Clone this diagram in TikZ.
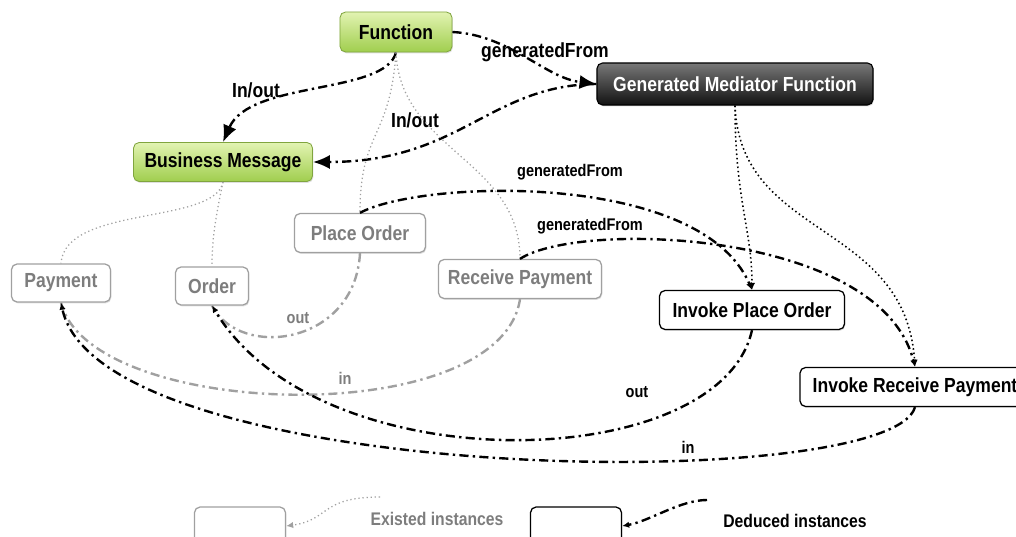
\documentclass[tikz,border=0pt]{standalone}
\usepackage{fontspec}
\setmainfont[FakeStretch=0.86]{Liberation Sans}
\usepackage{tikz}
\usetikzlibrary{arrows.meta, shadows}
\definecolor{leaftop}{RGB}{226, 243, 178}
\definecolor{leafbot}{RGB}{160, 206, 78}
\definecolor{mediatortop}{RGB}{120, 120, 120}
\definecolor{mediatorbot}{RGB}{18, 18, 18}
\definecolor{existgray}{RGB}{125, 125, 125}
\definecolor{existline}{RGB}{160, 160, 160}

\tikzset{
  box/.style={rounded corners=4pt, align=center, font=\fontsize{14.5}{16}\selectfont\bfseries,
    inner sep=2pt, drop shadow={opacity=0.25, shadow xshift=0.6pt, shadow yshift=-1pt}},
  concept/.style={box, draw=leafbot!80!black, line width=0.6pt, top color=leaftop, bottom color=leafbot},
  mediator/.style={box, draw=black, line width=0.8pt, top color=mediatortop, bottom color=mediatorbot, text=white},
  existed/.style={box, draw=existline, line width=0.9pt, fill=white, text=existgray},
  deduced/.style={box, draw=black, line width=0.9pt, fill=white, text=black},
  dashdot/.style={line width=1.7pt, dash pattern=on 6.5pt off 3pt on 1.7pt off 3pt},
  deduce/.style={dashdot, black, -{Latex[length=5pt, width=4.5pt]}},
  existdeduce/.style={dashdot, existline},
  member/.style={dotted, line width=0.9pt, existline},
  instof/.style={dotted, line width=1.1pt, black, -{Latex[length=5pt, width=4.5pt]}},
  biglabel/.style={font=\fontsize{14.5}{16}\selectfont\bfseries},
  smalllabel/.style={font=\fontsize{12}{14}\selectfont\bfseries}
}

\begin{document}
\begin{tikzpicture}[x=0.025cm, y=-0.025cm]
    \useasboundingbox (0,0) rectangle (1016,537);

    % schema level
    \node[concept, minimum width=2.8cm, minimum height=1.0cm] (fun) at (396,32) {Function};
    \node[mediator, minimum width=6.9cm, minimum height=1.05cm] (gmf) at (735,84) {Generated Mediator Function};
    \node[concept, minimum width=4.475cm, minimum height=0.975cm] (bm) at (223,162) {Business Message};

    % existed instances
    \node[existed, minimum width=3.275cm, minimum height=0.975cm] (po) at (360,233) {Place Order};
    \node[existed, minimum width=2.475cm, minimum height=0.95cm] (pay) at (61,283) {Payment};
    \node[existed, minimum width=1.825cm, minimum height=0.95cm] (ord) at (212,286) {Order};
    \node[existed, minimum width=4.075cm, minimum height=0.975cm] (rp) at (520,279) {Receive Payment};

    % deduced instances
    \node[deduced, minimum width=4.625cm, minimum height=0.975cm] (ipo) at (752,310) {Invoke Place Order};
    \node[deduced, minimum width=5.75cm, minimum height=0.975cm] (irp) at (915,387) {Invoke Receive Payment};

    % schema links
    \draw[dashdot, -{Latex[length=12pt, width=10pt]}] (fun.south) .. controls (385,95) and (250,80) .. (bm.north);
    \draw[dashdot, -{Latex[length=12pt, width=10pt]}] (fun.east) .. controls (510,35) and (545,78) .. (gmf.west);
    \draw[dashdot, -{Latex[length=12pt, width=10pt]}] (gmf.west) .. controls (490,85) and (460,162) .. (bm.east);
    \node[biglabel] (lblio1) at (256,90) {In/out};
    \node[biglabel] (lblgen1) at (545,52) {generatedFrom};
    \node[biglabel] (lblio2) at (415,120) {In/out};

    % instance-of links
    \draw[member] (fun.south) .. controls (390,140) and (360,130) .. (po.north);
    \draw[member] (fun.south) .. controls (400,150) and (520,160) .. (rp.north);
    \draw[member] (bm.south) .. controls (215,225) and (65,205) .. (pay.north);
    \draw[member] (bm.south) .. controls (215,220) and (212,240) .. (ord.north);
    \draw[instof] (gmf.south) .. controls (735,200) and (752,230) .. (ipo.north);
    \draw[instof] (gmf.south) .. controls (740,240) and (905,220) .. (irp.north);

    % existed in/out
    \draw[existdeduce] (po.south) .. controls (355,345) and (240,360) .. (ord.south);
    \draw[existdeduce] (rp.south) .. controls (500,432) and (90,420) .. (pay.south);
    \node[smalllabel, text=existgray] (lblout1) at (298,318) {out};
    \node[smalllabel, text=existgray] (lblin1) at (345,378) {in};

    % deduced links
    \draw[deduce] (po.north) .. controls (420,180) and (700,170) .. (ipo.north);
    \draw[deduce] (rp.north) .. controls (580,220) and (880,230) .. (irp.north);
    \draw[deduce] (ipo.south) .. controls (720,475) and (320,485) .. (ord.south);
    \draw[deduce] (irp.south) .. controls (890,496) and (100,486) .. (pay.south);
    \node[smalllabel] (lblgen2) at (570,172) {generatedFrom};
    \node[smalllabel] (lblgen3) at (590,226) {generatedFrom};
    \node[smalllabel] (lblout2) at (637,392) {out};
    \node[smalllabel] (lblin2) at (688,447) {in};

    % legend
    \node[existed, minimum width=2.275cm, minimum height=0.95cm] (legexist) at (240,526) {};
    \node[deduced, minimum width=2.275cm, minimum height=0.95cm] (legdeduce) at (576,526) {};
    \coordinate (legexistfrom) at (380,497);
    \coordinate (legdeducefrom) at (707,500);
    \draw[member, -{Latex[length=5pt, width=4.5pt]}] (legexistfrom) .. controls (320,497) and (330,520) .. (legexist.east);
    \draw[deduce] (legdeducefrom) .. controls (680,500) and (650,521) .. (legdeduce.east);
    \node[smalllabel, text=existgray, font=\fontsize{13}{15}\selectfont\bfseries] (legexisttext) at (437,519) {Existed instances};
    \node[smalllabel, font=\fontsize{13}{15}\selectfont\bfseries] (legdeducetext) at (795,521) {Deduced instances};
\end{tikzpicture}
\end{document}
